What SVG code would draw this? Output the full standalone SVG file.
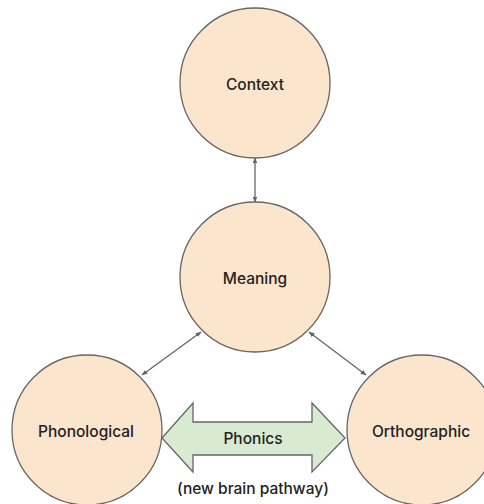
<svg xmlns="http://www.w3.org/2000/svg" width="484" height="504" viewBox="0 0 484 504">
<defs>
<marker id="ah" viewBox="0 0 10 10" refX="9" refY="5" markerWidth="6" markerHeight="6" orient="auto-start-reverse" markerUnits="userSpaceOnUse">
<path d="M0,1 L10,5 L0,9 z" fill="#666"/>
</marker>
<style>
.node circle{fill:#fce5cd;stroke:#666;stroke-width:1.3}
.lbl{font-family:Inter,"Open Sans",sans-serif;font-size:15.5px;font-weight:500;fill:#222;text-anchor:middle;dominant-baseline:central}
.conn line{stroke:#666;stroke-width:1.3;marker-start:url(#ah);marker-end:url(#ah)}
</style>
</defs>
<rect width="484" height="504" fill="#fff"/>
<g class="conn" id="connectors">
<line x1="255" y1="158" x2="255" y2="202"/>
<line x1="201" y1="332" x2="142" y2="375"/>
<line x1="309" y1="332" x2="366" y2="375"/>
</g>
<g class="node" id="context"><circle cx="255" cy="83" r="75"/><text class="lbl" x="255" y="84">Context</text></g>
<g class="node" id="meaning"><circle cx="255" cy="277" r="75"/><text class="lbl" x="255" y="278">Meaning</text></g>
<g class="node" id="phonological"><circle cx="87" cy="430" r="75"/><text class="lbl" x="86" y="431">Phonological</text></g>
<g class="node" id="orthographic"><circle cx="422" cy="430" r="75"/><text class="lbl" x="421" y="431">Orthographic</text></g>
<g id="phonics">
<path d="M162,438 L193,403 L193,422 L312,422 L312,403 L345,438 L312,472 L312,455 L193,455 L193,472 Z" fill="#d9ead3" stroke="#666" stroke-width="1.3" stroke-linejoin="miter"/>
<text class="lbl" x="253" y="438">Phonics</text>
<text class="lbl" x="253" y="488">(new brain pathway)</text>
</g>
</svg>
